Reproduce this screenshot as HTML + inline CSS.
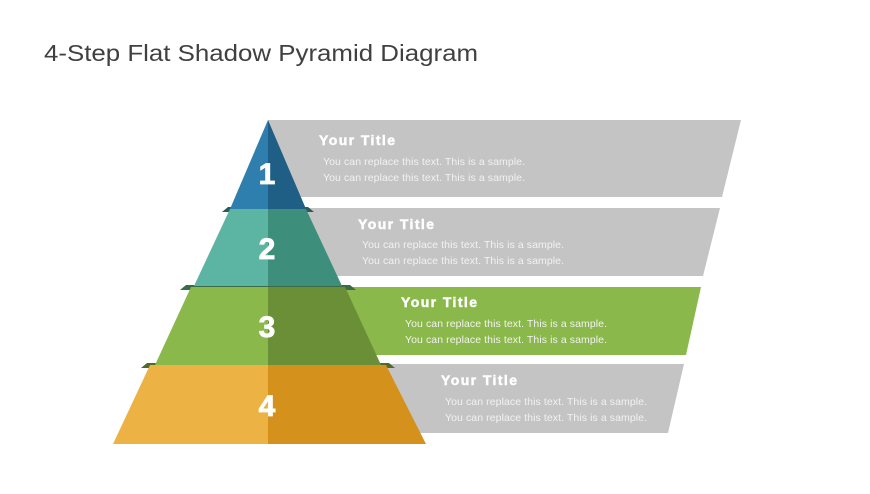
<!DOCTYPE html>
<html><head><style>
body{margin:0;width:870px;height:489px;background:#fff;overflow:hidden;font-family:"Liberation Sans",sans-serif}
</style></head><body>
<svg width="870" height="489" xmlns="http://www.w3.org/2000/svg" font-family="Liberation Sans, sans-serif">
<text x="44" y="61" font-size="23" fill="#404040" textLength="434" lengthAdjust="spacingAndGlyphs">4-Step Flat Shadow Pyramid Diagram</text>
<polygon points="268,120 741,120 722,197 268,197" fill="#c4c4c4"/>
<polygon points="268,208 720,208 703,276 268,276" fill="#c4c4c4"/>
<polygon points="268,287 701,287 686,355 268,355" fill="#8ab84a"/>
<polygon points="268,364 684,364 668,433 268,433" fill="#c4c4c4"/>
<polygon points="228,207 308,207 314,212 222,212" fill="#2a5a5a"/>
<polygon points="186,285 350,285 356,290 180,290" fill="#3a6b4a"/>
<polygon points="147,363 389,363 395,368 141,368" fill="#4f6a2a"/>
<polygon points="268,120 268,209 230,209" fill="#2e7fae"/>
<polygon points="268,120 306,209 268,209" fill="#1f5f86"/>
<polygon points="230,209 268,209 268,286 194,286" fill="#5bb5a2"/>
<polygon points="268,209 306,209 342,286 268,286" fill="#3e8e7c"/>
<polygon points="191,287 268,287 268,365 155,365" fill="#8ab84a"/>
<polygon points="268,287 345,287 381,365 268,365" fill="#6a8f36"/>
<polygon points="150,365 268,365 268,444 113,444" fill="#ecb243"/>
<polygon points="268,365 386,365 426,444 268,444" fill="#d4911b"/>
<g fill="#fff" font-weight="bold" font-size="30" text-anchor="middle" stroke="#fff" stroke-width="0.8">
<text x="267" y="184">1</text><text x="267" y="259">2</text><text x="267" y="337">3</text><text x="267" y="416">4</text>
</g>
<g fill="#fff" font-weight="bold" font-size="14" stroke="#fff" stroke-width="0.5">
<text x="319" y="145" textLength="76">Your Title</text><text x="358" y="229" textLength="76">Your Title</text><text x="401" y="307" textLength="76">Your Title</text><text x="441" y="385" textLength="76">Your Title</text>
</g>
<g fill="#f2f2f2" font-size="10.5">
<text x="323" y="165" textLength="202">You can replace this text. This is a sample.</text>
<text x="323" y="181" textLength="202">You can replace this text. This is a sample.</text>
<text x="362" y="248" textLength="202">You can replace this text. This is a sample.</text>
<text x="362" y="264" textLength="202">You can replace this text. This is a sample.</text>
<text x="405" y="327" textLength="202">You can replace this text. This is a sample.</text>
<text x="405" y="343" textLength="202">You can replace this text. This is a sample.</text>
<text x="445" y="405" textLength="202">You can replace this text. This is a sample.</text>
<text x="445" y="421" textLength="202">You can replace this text. This is a sample.</text>
</g>
</svg>
</body></html>
